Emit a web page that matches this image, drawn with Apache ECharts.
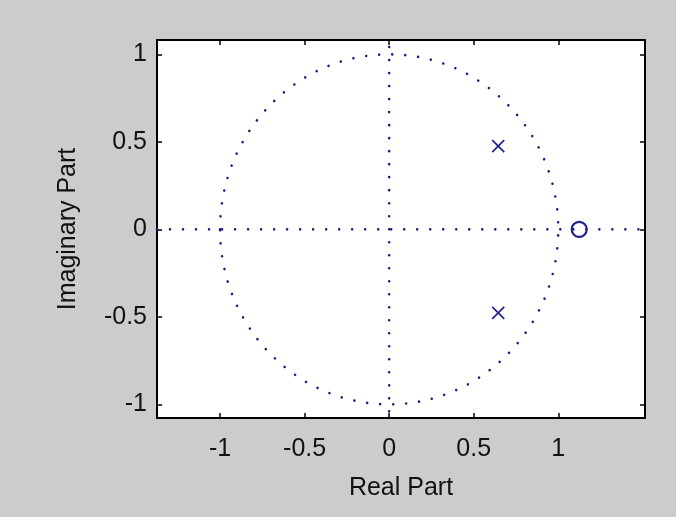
<!DOCTYPE html>
<html>
<head>
<meta charset="utf-8">
<script src="https://cdn.jsdelivr.net/npm/echarts@6/dist/echarts.min.js"></script>
<style>
html,body{margin:0;padding:0;background:#cccccc;}
#chart{width:676px;height:517px;}
</style>
</head>
<body>
<div id="chart"></div>
<script>
// ---- data ----
const xTicks = [-1, -0.5, 0, 0.5, 1];
const yTicks = [-1, -0.5, 0, 0.5, 1];
const xRange = [-1.373, 1.513];
const yRange = [-1.078, 1.082];
const zeros = [[1.124, 0]];
const poles = [[0.645, 0.476], [0.645, -0.477]];
const unitCircle = [[0, 0, 1]]; // center x, center y, radius
const realAxisLine = [[-1.373, 0], [1.513, 0]];
const imagAxisLine = [[0, -1.04], [0, 1.06]];
const xName = 'Real Part';
const yName = 'Imaginary Part';

const blue = '#22228c';
const dotColor = '#1e1e78';
const dotStyle = { lineWidth: 2.6, lineDash: [0.01, 13], lineCap: 'round' };
const font = '"Liberation Sans", Arial, sans-serif';

const chart = echarts.init(document.getElementById('chart'), null, { renderer: 'canvas' });

function baseX(pos, showLabels) {
  return {
    type: 'value', position: pos, min: xRange[0], max: xRange[1],
    axisLine: { show: true, onZero: false, lineStyle: { color: '#000', width: 2 } },
    axisTick: { show: true, inside: true, length: 5, customValues: xTicks, lineStyle: { color: '#000', width: 1.5 } },
    axisLabel: showLabels ? { show: true, customValues: xTicks, color: '#111', fontSize: 25, fontFamily: font, margin: 19 } : { show: false },
    splitLine: { show: false }
  };
}
function baseY(pos, showLabels) {
  return {
    type: 'value', position: pos, min: yRange[0], max: yRange[1],
    axisLine: { show: true, onZero: false, lineStyle: { color: '#000', width: 2 } },
    axisTick: { show: true, inside: true, length: 5, customValues: yTicks, lineStyle: { color: '#000', width: 1.5 } },
    axisLabel: showLabels ? { show: true, customValues: yTicks, color: '#111', fontSize: 25, fontFamily: font, margin: 10 } : { show: false },
    splitLine: { show: false }
  };
}

const xb = baseX('bottom', true);
xb.name = xName; xb.nameLocation = 'middle'; xb.nameGap = 58;
xb.nameTextStyle = { color: '#111', fontSize: 25, fontFamily: font };
const yl = baseY('left', true);
yl.name = yName; yl.nameLocation = 'middle'; yl.nameGap = 76;
yl.nameTextStyle = { color: '#111', fontSize: 25, fontFamily: font };

function dottedLine(data) {
  return {
    type: 'custom', xAxisIndex: 0, yAxisIndex: 0, silent: true, z: 2,
    data: [data.flat()],
    renderItem: function (params, api) {
      const a = api.coord([api.value(0), api.value(1)]);
      const b = api.coord([api.value(2), api.value(3)]);
      return { type: 'line', shape: { x1: a[0], y1: a[1], x2: b[0], y2: b[1] },
        style: Object.assign({ stroke: dotColor, fill: null }, dotStyle) };
    }
  };
}

chart.setOption({
  backgroundColor: '#cccccc',
  animation: false,
  grid: { left: 157, right: 31, top: 40, bottom: 99, show: true, backgroundColor: '#ffffff', borderColor: '#000', borderWidth: 0 },
  xAxis: [xb, baseX('top', false)],
  yAxis: [yl, baseY('right', false)],
  series: [
    dottedLine(realAxisLine),
    dottedLine(imagAxisLine),
    {
      type: 'custom', xAxisIndex: 0, yAxisIndex: 0, silent: true, z: 2,
      data: unitCircle,
      renderItem: function (params, api) {
        const cx = api.value(0), cy = api.value(1), r = api.value(2);
        const c = api.coord([cx, cy]);
        const px = api.coord([cx + r, cy]);
        const py = api.coord([cx, cy + r]);
        return { type: 'ellipse', shape: { cx: c[0], cy: c[1], rx: px[0] - c[0], ry: c[1] - py[1] },
          style: Object.assign({ stroke: dotColor, fill: null }, dotStyle) };
      }
    },
    {
      type: 'custom', xAxisIndex: 0, yAxisIndex: 0, silent: true, z: 3,
      data: poles,
      renderItem: function (params, api) {
        const p = api.coord([api.value(0), api.value(1)]);
        const h = 6;
        const st = { stroke: blue, lineWidth: 1.7, fill: null };
        return { type: 'group', children: [
          { type: 'line', shape: { x1: p[0] - h, y1: p[1] - h, x2: p[0] + h, y2: p[1] + h }, style: st },
          { type: 'line', shape: { x1: p[0] - h, y1: p[1] + h, x2: p[0] + h, y2: p[1] - h }, style: st }
        ] };
      }
    },
    {
      type: 'custom', xAxisIndex: 0, yAxisIndex: 0, silent: true, z: 3,
      data: zeros,
      renderItem: function (params, api) {
        const p = api.coord([api.value(0), api.value(1)]);
        return { type: 'circle', shape: { cx: p[0], cy: p[1], r: 7.5 },
          style: { stroke: blue, lineWidth: 2.2, fill: null } };
      }
    }
  ]
});
</script>
</body>
</html>
